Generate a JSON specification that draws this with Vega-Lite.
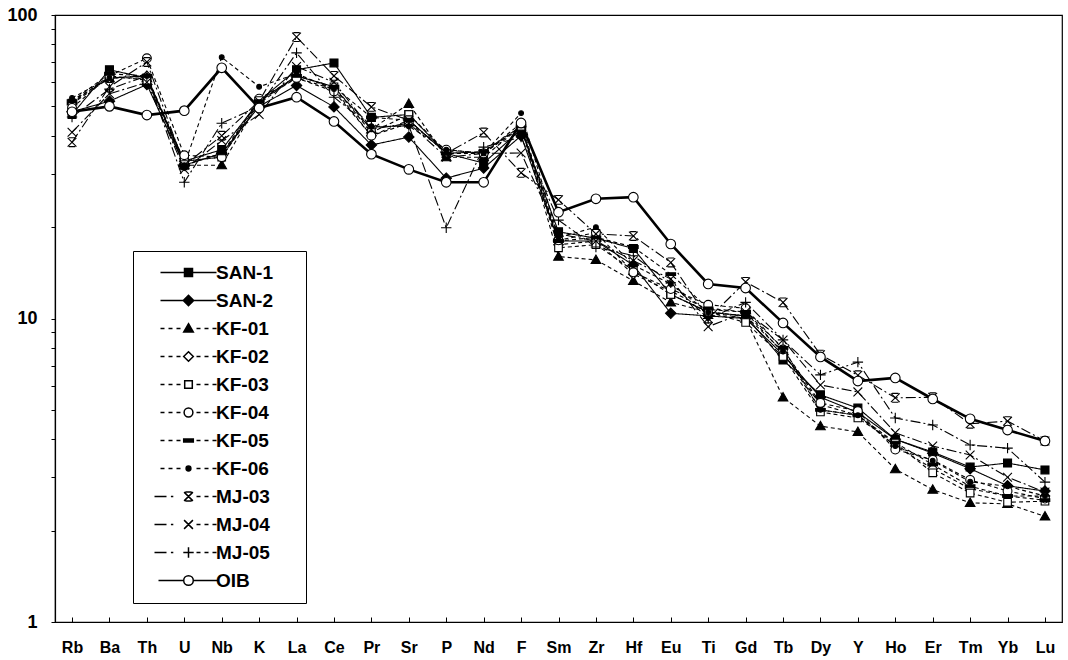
{
  "$schema": "https://vega.github.io/schema/vega-lite/v6.json",
  "width": 1007,
  "height": 607,
  "autosize": {"type": "none"},
  "padding": {"left": 55, "top": 15, "right": 6, "bottom": 38},
  "background": "white",
  "config": {
    "view": {"stroke": "black", "strokeWidth": 1.2},
    "font": "Liberation Sans",
    "axis": {"domainColor": "black", "tickColor": "black", "labelColor": "black", "grid": false, "labelFont": "Liberation Sans", "labelFontWeight": "bold", "title": null}
  },
  "data": {"values": [
    {"el": "Rb", "SAN-1": 47, "SAN-2": 48, "KF-01": 52, "KF-02": 51, "KF-03": 51.3, "KF-04": 49.4, "KF-05": 52, "KF-06": 53.3, "MJ-03": 38.1, "MJ-04": 41.1, "MJ-05": 46.1, "OIB": 48},
    {"el": "Ba", "SAN-1": 66, "SAN-2": 52, "KF-01": 62, "KF-02": 62, "KF-03": 63, "KF-04": 63, "KF-05": 64, "KF-06": 62, "MJ-03": 58, "MJ-04": 55, "MJ-05": 57, "OIB": 50},
    {"el": "Th", "SAN-1": 62, "SAN-2": 59, "KF-01": 62, "KF-02": 63, "KF-03": 61, "KF-04": 72, "KF-05": 63, "KF-06": 63, "MJ-03": 70, "MJ-04": 60, "MJ-05": 63, "OIB": 46.8},
    {"el": "U", "SAN-1": 33, "SAN-2": 32, "KF-01": 32, "KF-02": 33, "KF-03": 33, "KF-04": 34.5, "KF-05": 32, "KF-06": 32, "MJ-03": 32, "MJ-04": 31, "MJ-05": 28.1, "OIB": 48.4},
    {"el": "Nb", "SAN-1": 36, "SAN-2": 35, "KF-01": 32, "KF-02": 34, "KF-03": 34, "KF-04": 34, "KF-05": 35, "KF-06": 72.6, "MJ-03": 40, "MJ-04": 38.6, "MJ-05": 44, "OIB": 67},
    {"el": "K", "SAN-1": 52, "SAN-2": 50, "KF-01": 52, "KF-02": 52, "KF-03": 51, "KF-04": 53, "KF-05": 52, "KF-06": 58, "MJ-03": 52, "MJ-04": 47, "MJ-05": 50, "OIB": 49.4},
    {"el": "La", "SAN-1": 66, "SAN-2": 58.6, "KF-01": 63, "KF-02": 62, "KF-03": 63, "KF-04": 62, "KF-05": 63, "KF-06": 64, "MJ-03": 84.6, "MJ-04": 67.6, "MJ-05": 75, "OIB": 53.6},
    {"el": "Ce", "SAN-1": 69.5, "SAN-2": 49.8, "KF-01": 58, "KF-02": 57, "KF-03": 58, "KF-04": 56, "KF-05": 58, "KF-06": 57, "MJ-03": 63, "MJ-04": 60, "MJ-05": 53.6, "OIB": 44.6},
    {"el": "Pr", "SAN-1": 46, "SAN-2": 37.3, "KF-01": 42, "KF-02": 40, "KF-03": 41, "KF-04": 40, "KF-05": 46, "KF-06": 43, "MJ-03": 49.8, "MJ-04": 42, "MJ-05": 42.7, "OIB": 34.8},
    {"el": "Sr", "SAN-1": 47, "SAN-2": 39.6, "KF-01": 51, "KF-02": 45, "KF-03": 47, "KF-04": 44, "KF-05": 45, "KF-06": 43, "MJ-03": 45, "MJ-04": 44, "MJ-05": 43.2, "OIB": 31},
    {"el": "P", "SAN-1": 35, "SAN-2": 29, "KF-01": 34, "KF-02": 35, "KF-03": 35.5, "KF-04": 36, "KF-05": 35, "KF-06": 36, "MJ-03": 35, "MJ-04": 34, "MJ-05": 19.9, "OIB": 28.1},
    {"el": "Nd", "SAN-1": 32.5, "SAN-2": 31.3, "KF-01": 34, "KF-02": 35, "KF-03": 35, "KF-04": 35, "KF-05": 35.5, "KF-06": 35, "MJ-03": 41, "MJ-04": 35, "MJ-05": 36.7, "OIB": 28.1},
    {"el": "F", "SAN-1": 42, "SAN-2": 40, "KF-01": 43, "KF-02": 43, "KF-03": 43, "KF-04": 44, "KF-05": 43, "KF-06": 47.5, "MJ-03": 30.2, "MJ-04": 35.1, "MJ-05": 39.6, "OIB": 44.1},
    {"el": "Sm", "SAN-1": 19.3, "SAN-2": 18, "KF-01": 16, "KF-02": 17.5, "KF-03": 17.1, "KF-04": 18.1, "KF-05": 18, "KF-06": 18.5, "MJ-03": 24.6, "MJ-04": 19, "MJ-05": 21.1, "OIB": 22.4},
    {"el": "Zr", "SAN-1": 18.4, "SAN-2": 18, "KF-01": 15.6, "KF-02": 18, "KF-03": 17.5, "KF-04": 19.2, "KF-05": 18.5, "KF-06": 20, "MJ-03": 19, "MJ-04": 18, "MJ-05": 17.2, "OIB": 24.8},
    {"el": "Hf", "SAN-1": 17, "SAN-2": 15, "KF-01": 13.3, "KF-02": 14, "KF-03": 14.4, "KF-04": 14.2, "KF-05": 17.2, "KF-06": 15, "MJ-03": 18.7, "MJ-04": 15.5, "MJ-05": 16.1, "OIB": 25.1},
    {"el": "Eu", "SAN-1": 12, "SAN-2": 10.4, "KF-01": 11.3, "KF-02": 12.3, "KF-03": 12, "KF-04": 12.5, "KF-05": 14, "KF-06": 13, "MJ-03": 15.3, "MJ-04": 13.5, "MJ-05": 13.1, "OIB": 17.6},
    {"el": "Ti", "SAN-1": 10.5, "SAN-2": 10.2, "KF-01": 10.5, "KF-02": 10.7, "KF-03": 10.5, "KF-04": 11.1, "KF-05": 10.8, "KF-06": 10.5, "MJ-03": 10, "MJ-04": 9.4, "MJ-05": 10, "OIB": 13},
    {"el": "Gd", "SAN-1": 10.2, "SAN-2": 10, "KF-01": 10, "KF-02": 10.5, "KF-03": 9.7, "KF-04": 10.8, "KF-05": 10.5, "KF-06": 10.2, "MJ-03": 13.2, "MJ-04": 10.5, "MJ-05": 11.3, "OIB": 12.6},
    {"el": "Tb", "SAN-1": 7.3, "SAN-2": 7.6, "KF-01": 5.5, "KF-02": 7.7, "KF-03": 7.5, "KF-04": 7.9, "KF-05": 8, "KF-06": 7.8, "MJ-03": 11.3, "MJ-04": 8.5, "MJ-05": 8.5, "OIB": 9.67},
    {"el": "Dy", "SAN-1": 5.6, "SAN-2": 5.5, "KF-01": 4.42, "KF-02": 5.2, "KF-03": 4.92, "KF-04": 5.27, "KF-05": 5, "KF-06": 5, "MJ-03": 7.6, "MJ-04": 6.04, "MJ-05": 6.52, "OIB": 7.47},
    {"el": "Y", "SAN-1": 5.07, "SAN-2": 4.9, "KF-01": 4.23, "KF-02": 4.8, "KF-03": 4.7, "KF-04": 4.95, "KF-05": 4.8, "KF-06": 4.8, "MJ-03": 6.5, "MJ-04": 5.73, "MJ-05": 7.18, "OIB": 6.22},
    {"el": "Ho", "SAN-1": 4, "SAN-2": 4, "KF-01": 3.19, "KF-02": 3.8, "KF-03": 3.89, "KF-04": 3.7, "KF-05": 3.9, "KF-06": 3.8, "MJ-03": 5.48, "MJ-04": 4.2, "MJ-05": 4.7, "OIB": 6.37},
    {"el": "Er", "SAN-1": 3.63, "SAN-2": 3.6, "KF-01": 2.73, "KF-02": 3.2, "KF-03": 3.1, "KF-04": 3.42, "KF-05": 3.3, "KF-06": 3.4, "MJ-03": 5.5, "MJ-04": 3.8, "MJ-05": 4.46, "OIB": 5.43},
    {"el": "Tm", "SAN-1": 3.24, "SAN-2": 3.2, "KF-01": 2.47, "KF-02": 2.75, "KF-03": 2.66, "KF-04": 2.94, "KF-05": 2.8, "KF-06": 2.9, "MJ-03": 4.5, "MJ-04": 3.55, "MJ-05": 3.83, "OIB": 4.67},
    {"el": "Yb", "SAN-1": 3.34, "SAN-2": 2.81, "KF-01": 2.45, "KF-02": 2.6, "KF-03": 2.48, "KF-04": 2.7, "KF-05": 2.6, "KF-06": 2.8, "MJ-03": 4.59, "MJ-04": 3, "MJ-05": 3.74, "OIB": 4.29},
    {"el": "Lu", "SAN-1": 3.17, "SAN-2": 2.7, "KF-01": 2.23, "KF-02": 2.6, "KF-03": 2.5, "KF-04": 2.55, "KF-05": 2.52, "KF-06": 2.6, "MJ-03": 3.95, "MJ-04": 2.68, "MJ-05": 2.89, "OIB": 3.95}
  ]},
  "transform": [
    {"fold": ["SAN-1", "SAN-2", "KF-01", "KF-02", "KF-03", "KF-04", "KF-05", "KF-06", "MJ-03", "MJ-04", "MJ-05", "OIB"], "as": ["series", "value"]}
  ],
  "resolve": {"scale": {"shape": "independent", "fill": "independent"}},
  "encoding": {
    "x": {
      "field": "el", "type": "ordinal",
      "sort": ["Rb", "Ba", "Th", "U", "Nb", "K", "La", "Ce", "Pr", "Sr", "P", "Nd", "F", "Sm", "Zr", "Hf", "Eu", "Ti", "Gd", "Tb", "Dy", "Y", "Ho", "Er", "Tm", "Yb", "Lu"],
      "scale": {"type": "point", "padding": 0.455},
      "axis": {"labelAngle": 0, "labelFontSize": 16, "tickSize": -5, "labelPadding": 22, "domainWidth": 1.2}
    },
    "y": {
      "field": "value", "type": "quantitative",
      "scale": {"type": "log", "domain": [1, 100], "nice": false},
      "axis": {
        "values": [1, 2, 3, 4, 5, 6, 7, 8, 9, 10, 20, 30, 40, 50, 60, 70, 80, 90, 100],
        "labelExpr": "(datum.value == 1 || datum.value == 10 || datum.value == 100) ? datum.label : ''",
        "labelFontSize": 18, "tickSize": 4, "labelPadding": 14, "domainWidth": 1.2
      }
    }
  },
  "layer": [
    {
      "transform": [{"filter": "datum.series != 'OIB'"}],
      "mark": {"type": "line", "color": "black", "strokeWidth": 1.1},
      "encoding": {
        "detail": {"field": "series", "type": "nominal"},
        "strokeDash": {
          "field": "series", "type": "nominal", "legend": null,
          "scale": {
            "domain": ["SAN-1", "SAN-2", "KF-01", "KF-02", "KF-03", "KF-04", "KF-05", "KF-06", "MJ-03", "MJ-04", "MJ-05"],
            "range": [[1, 0], [1, 0], [4, 3], [4, 3], [4, 3], [4, 3], [4, 3], [4, 3], [10, 3, 2, 3], [10, 3, 2, 3], [10, 3, 2, 3]]
          }
        }
      }
    },
    {
      "transform": [{"filter": "datum.series == 'OIB'"}],
      "mark": {"type": "line", "color": "black", "strokeWidth": 2.6},
      "encoding": {}
    },
    {
      "mark": {"type": "point", "size": 0, "stroke": "black", "strokeWidth": 1.1, "opacity": 1, "filled": true},
      "encoding": {
        "shape": {
          "field": "series", "type": "nominal",
          "scale": {
            "domain": ["SAN-1", "SAN-2", "KF-01", "KF-02", "KF-03", "KF-04", "KF-05", "KF-06", "MJ-03", "MJ-04", "MJ-05", "OIB"],
            "range": [
              "M-7,0H7M-1,-1H1V1H-1ZM25.5,0",
              "M-7,0H7M0,-1.3L1.3,0L0,1.3L-1.3,0ZM25.5,0",
              "M-7,0H-6M-5,0H-4M-3,0H-2M2,0H3M4,0H5M6,0H7M0,-1.2L1.2,0.9H-1.2ZM25.5,0",
              "M-7,0H-6M-5,0H-4M-3,0H-2M2,0H3M4,0H5M6,0H7M0,-1.2L1.2,0L0,1.2L-1.2,0ZM25.5,0",
              "M-7,0H-6M-5,0H-4M-3,0H-2M2,0H3M4,0H5M6,0H7M-0.95,-0.95H0.95V0.95H-0.95ZM25.5,0",
              "M-7,0H-6M-5,0H-4M-3,0H-2M2,0H3M4,0H5M6,0H7M-1.1,0A1.1,1.1,0,1,0,1.1,0A1.1,1.1,0,1,0,-1.1,0ZM25.5,0",
              "M-7,0H-6M-5,0H-4M-3,0H-2M2,0H3M4,0H5M6,0H7M-1.2,-0.35H1.2V0.35H-1.2ZM25.5,0",
              "M-7,0H-6M-5,0H-4M-3,0H-2M2,0H3M4,0H5M6,0H7M-0.6,0A0.6,0.6,0,1,0,0.6,0A0.6,0.6,0,1,0,-0.6,0ZM25.5,0",
              "M-8.5,0H-5.5M-4.4,0H-3.8M2,0H3M4,0H5M6,0H7M-1.1,-1.1L1.1,1.1M-1.1,1.1L1.1,-1.1M-0.8,-1.1H0.8M-0.8,1.1H0.8M25.5,0",
              "M-8.5,0H-5.5M-4.4,0H-3.8M2,0H3M4,0H5M6,0H7M-1.1,-1.1L1.1,1.1M-1.1,1.1L1.1,-1.1M25.5,0",
              "M-8.5,0H-5.5M-4.4,0H-3.8M2,0H3M4,0H5M6,0H7M-1.3,0H1.3M0,-1.3V1.3M25.5,0",
              "M-7.5,0H-1.2M1.2,0H7.5M-1.2,0A1.2,1.2,0,1,0,1.2,0A1.2,1.2,0,1,0,-1.2,0ZM25.5,0"
            ]
          },
          "legend": {
            "orient": "none", "legendX": 78, "legendY": 236,
            "title": null,
            "strokeColor": "black", "fillColor": "white", "padding": 12,
            "symbolSize": 64, "symbolOffset": 34, "labelOffset": 18,
            "labelFontSize": 19, "labelFontWeight": "bold", "labelFont": "Liberation Sans", "labelColor": "black",
            "rowPadding": 8,
            "encode": {
              "symbols": {
                "size": {"value": 64},
                "fill": {"signal": "indexof(['KF-02','KF-03','KF-04','OIB'], datum.value) >= 0 ? 'white' : 'black'"},
                "fillOpacity": {"value": 1},
                "stroke": {"value": "black"},
                "strokeWidth": {"signal": "datum.value === 'OIB' ? 2.2 : 1.1"},
                "opacity": {"value": 1}
              }
            }
          }
        },
        "fill": {
          "field": "series", "type": "nominal",
          "scale": {
            "domain": ["SAN-1", "SAN-2", "KF-01", "KF-02", "KF-03", "KF-04", "KF-05", "KF-06", "MJ-03", "MJ-04", "MJ-05", "OIB"],
            "range": ["black", "black", "black", "white", "white", "white", "black", "black", "black", "black", "black", "white"]
          },
          "legend": {
            "orient": "none", "legendX": 78, "legendY": 236,
            "title": null
          }
        }
      }
    },
    {
      "mark": {"type": "point", "size": 64, "stroke": "black", "strokeWidth": 1.1, "opacity": 1, "filled": true},
      "encoding": {
        "shape": {
          "field": "series", "type": "nominal", "legend": null,
          "scale": {
            "domain": ["SAN-1", "SAN-2", "KF-01", "KF-02", "KF-03", "KF-04", "KF-05", "KF-06", "MJ-03", "MJ-04", "MJ-05", "OIB"],
            "range": [
              "M-1,-1H1V1H-1Z",
              "M0,-1.3L1.3,0L0,1.3L-1.3,0Z",
              "M0,-1.2L1.2,0.9H-1.2Z",
              "M0,-1.2L1.2,0L0,1.2L-1.2,0Z",
              "M-0.95,-0.95H0.95V0.95H-0.95Z",
              "M-1.1,0A1.1,1.1,0,1,0,1.1,0A1.1,1.1,0,1,0,-1.1,0Z",
              "M-1.2,-0.35H1.2V0.35H-1.2Z",
              "M-0.6,0A0.6,0.6,0,1,0,0.6,0A0.6,0.6,0,1,0,-0.6,0Z",
              "M-1.1,-1.1L1.1,1.1M-1.1,1.1L1.1,-1.1M-0.8,-1.1H0.8M-0.8,1.1H0.8",
              "M-1.1,-1.1L1.1,1.1M-1.1,1.1L1.1,-1.1",
              "M-1.3,0H1.3M0,-1.3V1.3",
              "M-1.2,0A1.2,1.2,0,1,0,1.2,0A1.2,1.2,0,1,0,-1.2,0Z"
            ]
          }
        },
        "fill": {
          "field": "series", "type": "nominal", "legend": null,
          "scale": {
            "domain": ["SAN-1", "SAN-2", "KF-01", "KF-02", "KF-03", "KF-04", "KF-05", "KF-06", "MJ-03", "MJ-04", "MJ-05", "OIB"],
            "range": ["black", "black", "black", "white", "white", "white", "black", "black", "black", "black", "black", "white"]
          }
        }
      }
    }
  ]
}
